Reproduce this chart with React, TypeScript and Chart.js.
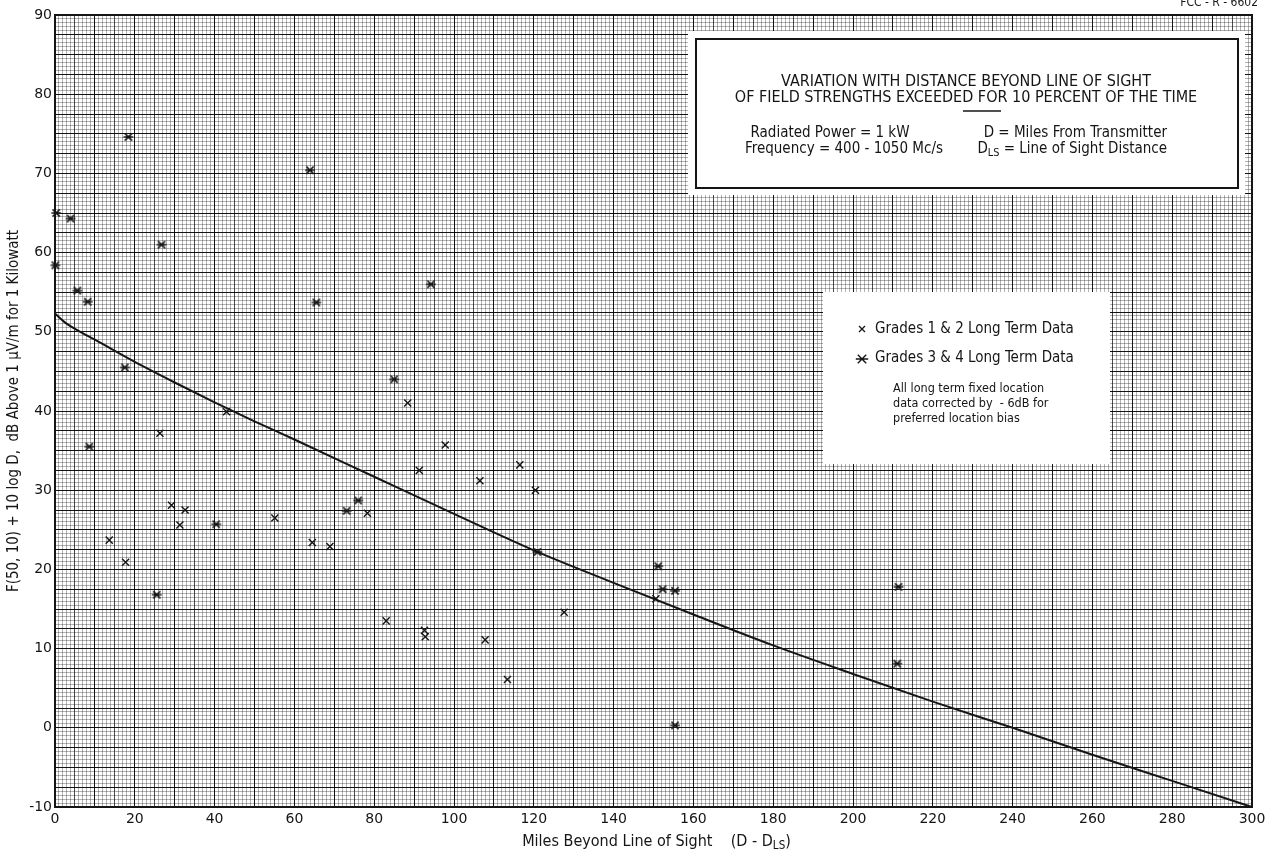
import React, { useEffect, useRef } from 'react';
import { Chart, registerables } from 'chart.js';

Chart.register(...registerables);

// ---------- data ----------
const curveX = [0, 3, 6, 10, 20, 30, 40, 50, 60, 80, 100, 120, 140, 160, 180, 200, 220, 240, 260, 280, 300];
const curveY = [52.3, 51.0, 50.1, 49.0, 46.2, 43.6, 41.1, 38.7, 36.4, 31.7, 27.0, 22.4, 18.3, 14.3, 10.4, 6.8, 3.3, 0.0, -3.4, -6.7, -10];

// Grades 1 & 2 Long Term Data (x marks)
const grade12X = [26.3, 43.0, 29.2, 32.6, 31.3, 55.1, 13.6, 64.5, 17.7, 88.4, 97.8, 91.3, 116.5, 106.5, 120.4, 78.3, 68.9, 150.6, 127.6, 83.0, 92.6, 92.8, 107.8, 113.4];
const grade12Y = [37.2, 39.9, 28.1, 27.5, 25.6, 26.5, 23.7, 23.4, 20.9, 41.0, 35.7, 32.5, 33.2, 31.2, 30.0, 27.1, 22.9, 16.3, 14.6, 13.5, 12.3, 11.5, 11.1, 6.1];

// Grades 3 & 4 Long Term Data (asterisks)
const grade34X = [18.4, 63.9, 0.3, 3.9, 26.7, 0.1, 5.6, 8.2, 65.5, 94.2, 17.5, 85.0, 8.6, 76.0, 73.1, 40.4, 120.9, 25.5, 151.2, 152.3, 155.4, 211.4, 211.1, 155.4];
const grade34Y = [74.6, 70.4, 65.0, 64.3, 61.0, 58.4, 55.2, 53.8, 53.7, 56.0, 45.5, 44.0, 35.5, 28.7, 27.4, 25.7, 22.2, 16.8, 20.4, 17.5, 17.3, 17.8, 8.1, 0.3];

const xTickLabels = [0, 20, 40, 60, 80, 100, 120, 140, 160, 180, 200, 220, 240, 260, 280, 300];
const yTickLabels = [-10, 0, 10, 20, 30, 40, 50, 60, 70, 80, 90];

const titleLines = [
  'VARIATION WITH DISTANCE BEYOND LINE OF SIGHT',
  'OF FIELD STRENGTHS EXCEEDED FOR 10 PERCENT OF THE TIME',
];
const legendLabels = ['Grades 1 & 2 Long Term Data', 'Grades 3 & 4 Long Term Data'];
const noteLines = ['All long term fixed location', 'data corrected by  - 6dB for', 'preferred location bias'];
const yTitle = 'F(50, 10) + 10 log D,  dB Above 1 \u03bcV/m for 1 Kilowatt';

// ---------- styling ----------
const NARROW = '"Liberation Sans Narrow", "DejaVu Sans Condensed", "Liberation Sans", sans-serif';
const ROUND = '"DejaVu Sans", "Liberation Sans", sans-serif';
const INK = '#151515';
const MINOR = 'rgba(0,0,0,0.30)';
const MID = 'rgba(0,0,0,0.70)';
const MAJOR = 'rgba(0,0,0,0.92)';

type Part = { t: string; sub?: boolean };

function drawParts(ctx: CanvasRenderingContext2D, parts: Part[], x: number, y: number, size: number, family: string, align: 'left' | 'center' | 'right') {
  const widths = parts.map((p) => {
    ctx.font = `${p.sub ? size * 0.72 : size}px ${family}`;
    return ctx.measureText(p.t).width;
  });
  const total = widths.reduce((a, b) => a + b, 0);
  let cx = align === 'left' ? x : align === 'center' ? x - total / 2 : x - total;
  ctx.textAlign = 'left';
  ctx.textBaseline = 'middle';
  parts.forEach((p, i) => {
    ctx.font = `${p.sub ? size * 0.72 : size}px ${family}`;
    ctx.fillText(p.t, cx, p.sub ? y + size * 0.25 : y);
    cx += widths[i];
  });
}

function strokeAsterisk(ctx: CanvasRenderingContext2D, cx: number, cy: number, d: number, h: number, lw: number) {
  ctx.save();
  ctx.strokeStyle = INK;
  ctx.lineWidth = lw;
  ctx.beginPath();
  ctx.moveTo(cx - d, cy - d);
  ctx.lineTo(cx + d, cy + d);
  ctx.moveTo(cx - d, cy + d);
  ctx.lineTo(cx + d, cy - d);
  ctx.moveTo(cx - h, cy);
  ctx.lineTo(cx + h, cy);
  ctx.stroke();
  ctx.restore();
}

function makeAsteriskImage(): HTMLCanvasElement {
  const c = document.createElement('canvas');
  c.width = 12;
  c.height = 12;
  const g = c.getContext('2d')!;
  strokeAsterisk(g, 6, 6, 3.6, 4.8, 1.5);
  return c;
}

const annotationPlugin = {
  id: 'paperAnnotations',
  beforeDatasetsDraw(chart: any) {
    const ctx: CanvasRenderingContext2D = chart.ctx;
    const ca = chart.chartArea;
    ctx.save();
    // frame of plot
    ctx.strokeStyle = INK;
    ctx.lineWidth = 2;
    ctx.strokeRect(ca.left, ca.top, ca.right - ca.left, ca.bottom - ca.top);

    // title box
    ctx.fillStyle = '#ffffff';
    ctx.fillRect(688, 31, 557, 164);
    ctx.strokeStyle = INK;
    ctx.lineWidth = 2;
    ctx.strokeRect(696, 39, 542, 149);
    ctx.fillStyle = INK;
    ctx.font = `16px ${NARROW}`;
    ctx.textAlign = 'center';
    ctx.textBaseline = 'middle';
    ctx.fillText(titleLines[0], 966, 82);
    ctx.fillText(titleLines[1], 966, 98);
    ctx.lineWidth = 1.5;
    ctx.beginPath();
    ctx.moveTo(963, 111);
    ctx.lineTo(1001, 111);
    ctx.stroke();
    drawParts(ctx, [{ t: 'Radiated Power = 1 kW' }], 830, 133, 15, NARROW, 'center');
    drawParts(ctx, [{ t: 'Frequency = 400 - 1050 Mc/s' }], 844, 149, 15, NARROW, 'center');
    drawParts(ctx, [{ t: 'D = Miles From Transmitter' }], 1167, 133, 15, NARROW, 'right');
    drawParts(ctx, [{ t: 'D' }, { t: 'LS', sub: true }, { t: ' = Line of Sight Distance' }], 1167, 149, 15, NARROW, 'right');

    // legend box
    ctx.fillStyle = '#ffffff';
    ctx.fillRect(823, 292, 287, 172);
    ctx.fillStyle = INK;
    ctx.strokeStyle = INK;
    ctx.lineWidth = 1.3;
    ctx.beginPath();
    ctx.moveTo(859, 326);
    ctx.lineTo(865, 332);
    ctx.moveTo(859, 332);
    ctx.lineTo(865, 326);
    ctx.stroke();
    strokeAsterisk(ctx, 862, 359, 4.2, 6.2, 1.4);
    drawParts(ctx, [{ t: legendLabels[0] }], 875, 329, 15, NARROW, 'left');
    drawParts(ctx, [{ t: legendLabels[1] }], 875, 358, 15, NARROW, 'left');
    noteLines.forEach((l, i) => {
      drawParts(ctx, [{ t: l }], 893, 389 + i * 15, 12.5, '"DejaVu Sans Condensed", ' + ROUND, 'left');
    });
    ctx.restore();
  },
  afterDraw(chart: any) {
    const ctx: CanvasRenderingContext2D = chart.ctx;
    const ca = chart.chartArea;
    ctx.save();
    ctx.fillStyle = INK;
    drawParts(
      ctx,
      [{ t: 'Miles Beyond Line of Sight    (D - D' }, { t: 'LS', sub: true }, { t: ')' }],
      (ca.left + ca.right) / 2 + 3,
      842,
      16,
      NARROW,
      'center'
    );
    drawParts(ctx, [{ t: 'FCC - R - 6602' }], 1258, 3, 12, NARROW, 'right');
    ctx.restore();
  },
};

function isMultiple(v: number, m: number) {
  const r = Math.abs(v / m - Math.round(v / m));
  return r < 1e-6;
}

export default function App() {
  const ref = useRef<HTMLCanvasElement | null>(null);

  useEffect(() => {
    if (!ref.current) return;
    const asterisk = makeAsteriskImage();
    const chart = new Chart(ref.current, {
      type: 'scatter',
      data: {
        datasets: [
          {
            type: 'line',
            label: 'curve',
            data: curveX.map((x, i) => ({ x, y: curveY[i] })),
            borderColor: INK,
            borderWidth: 2,
            pointRadius: 0,
            cubicInterpolationMode: 'monotone',
            fill: false,
          },
          {
            label: legendLabels[0],
            data: grade12X.map((x, i) => ({ x, y: grade12Y[i] })),
            pointStyle: 'crossRot',
            pointRadius: 5,
            borderColor: INK,
            borderWidth: 1.4,
            backgroundColor: INK,
          },
          {
            label: legendLabels[1],
            data: grade34X.map((x, i) => ({ x, y: grade34Y[i] })),
            pointStyle: asterisk,
            pointRadius: 6,
            borderColor: INK,
            backgroundColor: INK,
          },
        ],
      } as any,
      options: {
        animation: false,
        responsive: true,
        maintainAspectRatio: false,
        clip: false as any,
        layout: { padding: { top: 15, right: 14, left: 0, bottom: 0 } },
        plugins: { legend: { display: false }, tooltip: { enabled: false } },
        scales: {
          x: {
            type: 'linear',
            min: 0,
            max: 300,
            afterFit: (s: any) => {
              s.height = 42;
              s.paddingRight = 0;
            },
            border: { display: false },
            grid: {
              drawTicks: false,
              color: (c: any) =>
                c.tick && isMultiple(c.tick.value, 10) ? MAJOR : c.tick && isMultiple(c.tick.value, 5) ? MID : MINOR,
              lineWidth: 1,
            },
            ticks: {
              stepSize: 1,
              autoSkip: false,
              maxRotation: 0,
              minRotation: 0,
              padding: 4,
              color: INK,
              font: { family: ROUND, size: 14 },
              callback: (v: any) => (xTickLabels.includes(Number(v)) ? String(v) : ''),
            },
          },
          y: {
            type: 'linear',
            min: -10,
            max: 90,
            afterFit: (s: any) => {
              s.width = 55;
            },
            border: { display: false },
            title: {
              display: true,
              text: yTitle,
              color: INK,
              font: { family: NARROW, size: 15 },
              padding: { top: 5, bottom: 0 },
            },
            grid: {
              drawTicks: false,
              color: (c: any) => (c.tick && isMultiple(c.tick.value, 2.5) ? MAJOR : MINOR),
              lineWidth: 1,
            },
            ticks: {
              stepSize: 0.5,
              autoSkip: false,
              padding: 3,
              color: INK,
              font: { family: ROUND, size: 14 },
              callback: (v: any) => (yTickLabels.includes(Number(v)) ? String(v) : ''),
            },
          },
        },
      } as any,
      plugins: [annotationPlugin],
    });
    return () => chart.destroy();
  }, []);

  return (
    <div style={{ position: 'fixed', left: 0, top: 0, width: 1266, height: 849, background: '#fff' }}>
      <canvas ref={ref} />
    </div>
  );
}
